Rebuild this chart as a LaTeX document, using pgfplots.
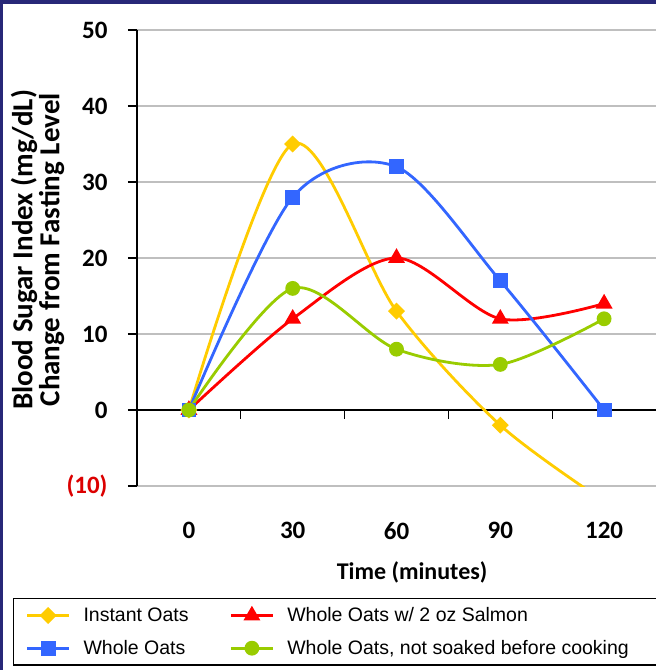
\documentclass[border=0pt]{standalone}
\usepackage{fontspec}
\setmainfont{Carlito}
\newfontfamily\arial{Liberation Sans}
\usepackage{pgfplots}
\pgfplotsset{compat=1.18}
\definecolor{cInst}{RGB}{255,204,0}
\definecolor{cWhole}{RGB}{51,102,255}
\definecolor{cSalm}{RGB}{255,0,0}
\definecolor{cSoak}{RGB}{153,204,0}
\definecolor{frame}{RGB}{40,40,120}
\definecolor{tickred}{RGB}{220,0,0}
\begin{document}
\begin{tikzpicture}
\useasboundingbox (0pt,0pt) rectangle (656pt,670pt);
\fill[white] (0pt,0pt) rectangle (656pt,670pt);
\fill[frame] (0pt,0pt) rectangle (3pt,670pt);
\fill[frame] (0pt,666pt) rectangle (656pt,670pt);
\begin{axis}[
 at={(137pt,184pt)}, anchor=south west,
 scale only axis, width=519pt, height=456pt,
 xmin=-15, xmax=135, ymin=-10, ymax=50,
 axis lines=left, axis line style={-, line width=1.3pt},
 x axis line style={draw=none},
 xtick={0,30,60,90,120}, xticklabels={0,30,60,90,120}, xtick style={draw=none},
 ytick={-10,0,10,20,30,40,50},
 yticklabels={\textcolor{tickred}{(10)},0,10,20,30,40,50},
 ytick style={line width=1.3pt, black},
 tick align=outside, major tick length=9pt,
 ymajorgrids, grid style={line width=1.2pt, black!25},
 tick label style={font=\bfseries\fontsize{25}{29}\selectfont},
 xticklabel style={yshift=-24pt},
 yticklabel style={xshift=-17pt},
 ylabel={Blood Sugar Index (mg/dL)\\Change from Fasting Level},
 ylabel style={at={(axis description cs:-0.1917,0.518)}, anchor=center, align=center, font=\bfseries\fontsize{29}{27}\selectfont},
 xlabel={Time (minutes)},
 xlabel style={at={(axis description cs:0.53,-0.1886)}, anchor=center, font=\bfseries\fontsize{24}{28}\selectfont},
 legend columns=2,
 legend cell align=left,
 legend image code/.code={\draw[mark repeat=2,mark phase=2,#1] plot coordinates {(0pt,0pt) (21pt,0pt) (42pt,0pt)};},
 legend style={at={(axis description cs:-0.239,-0.2456)}, anchor=north west, draw=black, line width=1.5pt,
   inner xsep=12pt, inner ysep=9pt, row sep=17pt, column sep=0pt,
   nodes={inner sep=0pt, text depth=0.15em},
   font=\arial\fontsize{19.5}{22}\selectfont},
]
\draw[black, line width=1.3pt] (axis cs:-15,0) -- (axis cs:135,0);
\pgfplotsinvokeforeach{15,45,75,105}{\draw[black, line width=1.3pt] (axis cs:#1,0) -- ++(0pt,-9pt);}
\addplot[color=cInst, line width=2.8pt, smooth, mark=diamond*, mark size=6.5pt, mark options={xscale=1.33, solid}]
 coordinates {(0,0) (30,35) (60,13) (90,-2) (120,-12)};
\addlegendentry{\hspace{13pt}\makebox[146pt][l]{Instant Oats}}
\addplot[color=cSalm, line width=2.8pt, smooth, mark=triangle*, mark size=7pt, mark options={solid}]
 coordinates {(0,0) (30,12) (60,20) (90,12) (120,14)};
\addlegendentry{\hspace{13pt}\makebox[380pt][l]{Whole Oats w/ 2 oz Salmon}}
\addplot[color=cWhole, line width=2.8pt, smooth, mark=square*, mark size=6pt, mark options={solid}]
 coordinates {(0,0) (30,28) (60,32) (90,17) (120,0)};
\addlegendentry{\hspace{13pt}\makebox[146pt][l]{Whole Oats}}
\addplot[color=cSoak, line width=2.8pt, smooth, mark=*, mark size=6pt, mark options={solid}]
 coordinates {(0,0) (30,16) (60,8) (90,6) (120,12)};
\addlegendentry{\hspace{13pt}\makebox[380pt][l]{Whole Oats, not soaked before cooking}}
\end{axis}
\end{tikzpicture}
\end{document}
